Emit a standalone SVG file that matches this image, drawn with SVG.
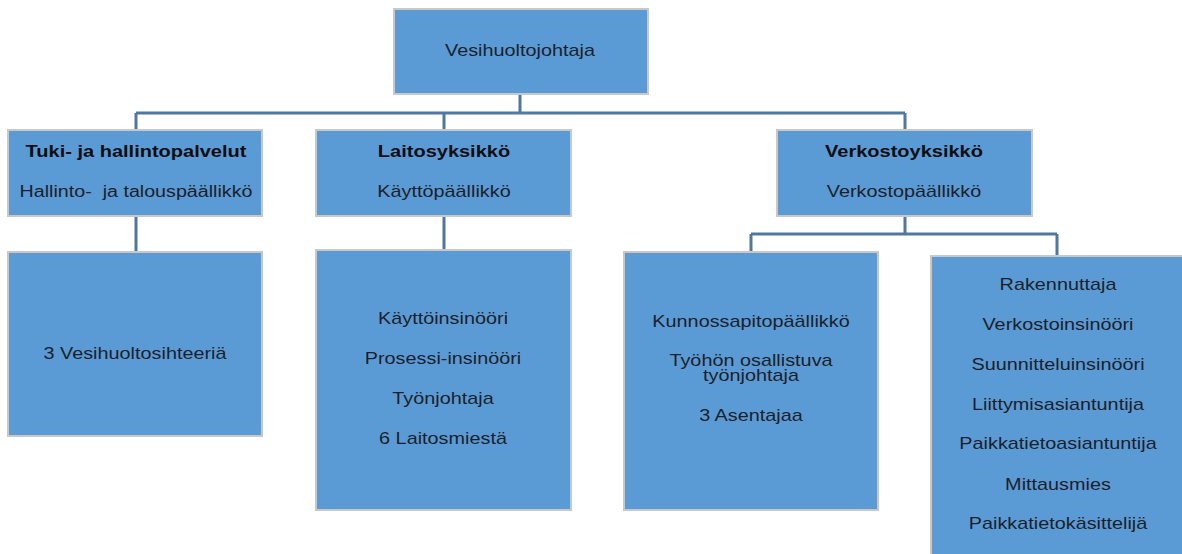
<svg xmlns="http://www.w3.org/2000/svg" width="1182" height="554" viewBox="0 0 1182 554">
<style>
.box{fill:#5b9bd5;stroke:#c8c8c8;stroke-width:2}
.t{font-family:"Liberation Sans",Arial,sans-serif;font-size:16px;fill:#1b1f2b;text-anchor:middle}
.b{font-weight:bold;fill:#0d0d12}
.c{fill:none;stroke:#50789f;stroke-width:3}
</style>
<rect width="1182" height="554" fill="#ffffff"/>
<g id="connectors">
<path class="c" d="M520,95 V113 M136,113 H905 M136,113 V130 M444,113 V130 M905,113 V130"/>
<path class="c" d="M136,216 V252 M444,216 V250"/>
<path class="c" d="M905,216 V234 M751,234 H1057 M751,234 V252 M1057,234 V256"/>
</g>
<g id="n-vesihuoltojohtaja">
<rect class="box" x="394" y="9" width="254" height="85"/>
<text class="t" transform="translate(520,56) scale(1.24,1)">Vesihuoltojohtaja</text>
</g>
<g id="n-tuki">
<rect class="box" x="8" y="130" width="254" height="86"/>
<text class="t b" transform="translate(136,157) scale(1.25,1)">Tuki- ja hallintopalvelut</text>
<text class="t" transform="translate(136,197) scale(1.23,1)">Hallinto-&#160; ja talouspäällikkö</text>
</g>
<g id="n-laitos">
<rect class="box" x="316" y="130" width="255" height="86"/>
<text class="t b" transform="translate(444,157) scale(1.25,1)">Laitosyksikkö</text>
<text class="t" transform="translate(444,197) scale(1.24,1)">Käyttöpäällikkö</text>
</g>
<g id="n-verkosto">
<rect class="box" x="777" y="130" width="255" height="86"/>
<text class="t b" transform="translate(904,157) scale(1.25,1)">Verkostoyksikkö</text>
<text class="t" transform="translate(904,197) scale(1.24,1)">Verkostopäällikkö</text>
</g>
<g id="n-sihteerit">
<rect class="box" x="8" y="252" width="254" height="184"/>
<text class="t" transform="translate(135,359) scale(1.24,1)">3 Vesihuoltosihteeriä</text>
</g>
<g id="n-laitos-henkilosto">
<rect class="box" x="316" y="250" width="255" height="260"/>
<text class="t" transform="translate(443,324) scale(1.24,1)">Käyttöinsinööri</text>
<text class="t" transform="translate(443,364) scale(1.24,1)">Prosessi-insinööri</text>
<text class="t" transform="translate(443,404) scale(1.24,1)">Työnjohtaja</text>
<text class="t" transform="translate(443,444) scale(1.24,1)">6 Laitosmiestä</text>
</g>
<g id="n-kunnossapito">
<rect class="box" x="624" y="252" width="254" height="258"/>
<text class="t" transform="translate(751,327) scale(1.24,1)">Kunnossapitopäällikkö</text>
<text class="t" transform="translate(751,366) scale(1.24,1)"><tspan x="0" dy="0">Työhön osallistuva</tspan><tspan x="0" dy="15">työnjohtaja</tspan></text>
<text class="t" transform="translate(751,421) scale(1.24,1)">3 Asentajaa</text>
</g>
<g id="n-verkosto-henkilosto">
<rect class="box" x="931" y="256" width="256" height="310"/>
<text class="t" transform="translate(1058,290) scale(1.24,1)">Rakennuttaja</text>
<text class="t" transform="translate(1058,330) scale(1.24,1)">Verkostoinsinööri</text>
<text class="t" transform="translate(1058,370) scale(1.24,1)">Suunnitteluinsinööri</text>
<text class="t" transform="translate(1058,410) scale(1.24,1)">Liittymisasiantuntija</text>
<text class="t" transform="translate(1058,449) scale(1.24,1)">Paikkatietoasiantuntija</text>
<text class="t" transform="translate(1058,490) scale(1.24,1)">Mittausmies</text>
<text class="t" transform="translate(1058,529) scale(1.24,1)">Paikkatietokäsittelijä</text>
</g>
</svg>
